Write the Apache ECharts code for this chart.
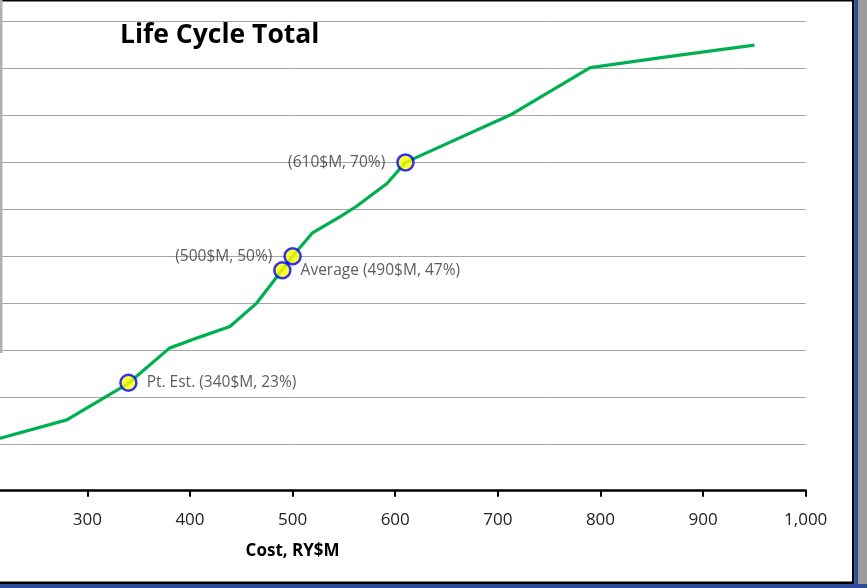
<!DOCTYPE html>
<html>
<head>
<meta charset="utf-8">
<script src="https://cdn.jsdelivr.net/npm/echarts@6/dist/echarts.min.js"></script>
<style>
html,body{margin:0;padding:0;background:#fff;overflow:hidden;width:867px;height:588px;position:relative;}
#chart{position:absolute;left:-221px;top:0;width:1088px;height:588px;}
</style>
</head>
<body>
<div id="chart"></div>
<script>
// Cumulative cost distribution (cost in RY$M, cumulative probability %)
var costs   = [200, 215, 280, 340, 380, 410, 439, 465, 490, 500, 519, 546, 562, 592, 610, 712, 790, 868, 950];
var cumPct  = [10.3, 11.2, 15.1, 22.9, 30.4, 32.8, 35.0, 40.0, 47.1, 50.0, 54.9, 58.4, 60.6, 65.5, 70.0, 80.1, 90.2, 92.6, 95.0];

// Highlighted points
var markCost  = [340, 490, 500, 610];
var markPct   = [23, 47, 50, 70];
var markText  = ['Pt. Est. (340$M, 23%)', 'Average (490$M, 47%)', '(500$M, 50%)', '(610$M, 70%)'];
var markSide  = ['right', 'right', 'left', 'left'];

var xTicks = [0, 100, 200, 300, 400, 500, 600, 700, 800, 900, 1000];
var titleText = 'Life Cycle Total';
var xName = 'Cost, RY$M';

var OFF = 221; // the chart canvas is shifted left by this many pixels
var chart = echarts.init(document.getElementById('chart'), null, {renderer: 'canvas'});

var lineData = costs.map(function (c, i) { return [c, cumPct[i]]; });
var markData = markCost.map(function (c, i) {
  return {
    value: [c, markPct[i]],
    label: {
      show: true,
      formatter: markText[i],
      position: markSide[i],
      distance: markSide[i] === 'left' ? 11 : 9
    }
  };
});

function r(x, y, w, h, fill) {
  return {type: 'rect', shape: {x: x + OFF, y: y, width: w, height: h}, style: {fill: fill}, silent: true, z: 100};
}

var option = {
  animation: false,
  backgroundColor: '#ffffff',
  title: {
    text: titleText,
    left: 115 + OFF,
    top: 17,
    textStyle: {fontFamily: 'Open Sans', fontWeight: 'bold', fontSize: 26.5, color: '#000'}
  },
  grid: {left: 0.5, right: 61.3, top: 21.7, bottom: 97.3, containLabel: false, outerBoundsMode: 'none'},
  xAxis: {
    type: 'value',
    min: xTicks[0],
    max: xTicks[xTicks.length - 1],
    interval: 100,
    name: xName,
    nameLocation: 'middle',
    nameGap: 52,
    nameTextStyle: {fontFamily: 'Open Sans', fontWeight: 'bold', fontSize: 17, color: '#000'},
    axisLine: {lineStyle: {color: '#000', width: 2.5}},
    axisTick: {show: true, inside: false, length: 6, lineStyle: {color: '#000', width: 2}},
    axisLabel: {
      fontFamily: 'Open Sans', fontSize: 17, color: '#222', margin: 21,
      formatter: function (v) { return v >= 1000 ? (v / 1000) + ',' + String(v % 1000).padStart(3, '0') : String(v); }
    },
    splitLine: {show: false}
  },
  yAxis: {
    type: 'value',
    min: 0,
    max: 100,
    interval: 10,
    axisLine: {show: false},
    axisTick: {show: false},
    axisLabel: {show: false},
    splitLine: {lineStyle: {color: '#a6a6a6', width: 1}}
  },
  series: [
    {
      type: 'line',
      data: lineData,
      showSymbol: false,
      symbol: 'none',
      lineStyle: {color: '#00b050', width: 3.2},
      z: 2
    },
    {
      type: 'scatter',
      data: markData,
      symbol: 'circle',
      symbolSize: 16,
      itemStyle: {color: '#ffff00', borderColor: '#0000ff', borderWidth: 2.5},
      label: {fontFamily: 'Open Sans', fontSize: 15.5, color: '#333333'},
      z: 3
    }
  ],
  graphic: [
    // window frame decoration
    r(0, 0, 854, 1.5, '#000'),
    r(852, 0, 2.5, 584, '#000'),
    r(0, 581.5, 854, 2.5, '#000'),
    r(0, 584, 867, 4, '#2b4b9b'),
    r(854.5, 0, 3.5, 588, '#2b4b9b'),
    r(858, 0, 9, 584, '#9a9a9a'),
    r(0, 0, 2.5, 353, '#b0b0b0')
  ]
};
chart.setOption(option);
</script>
</body>
</html>
